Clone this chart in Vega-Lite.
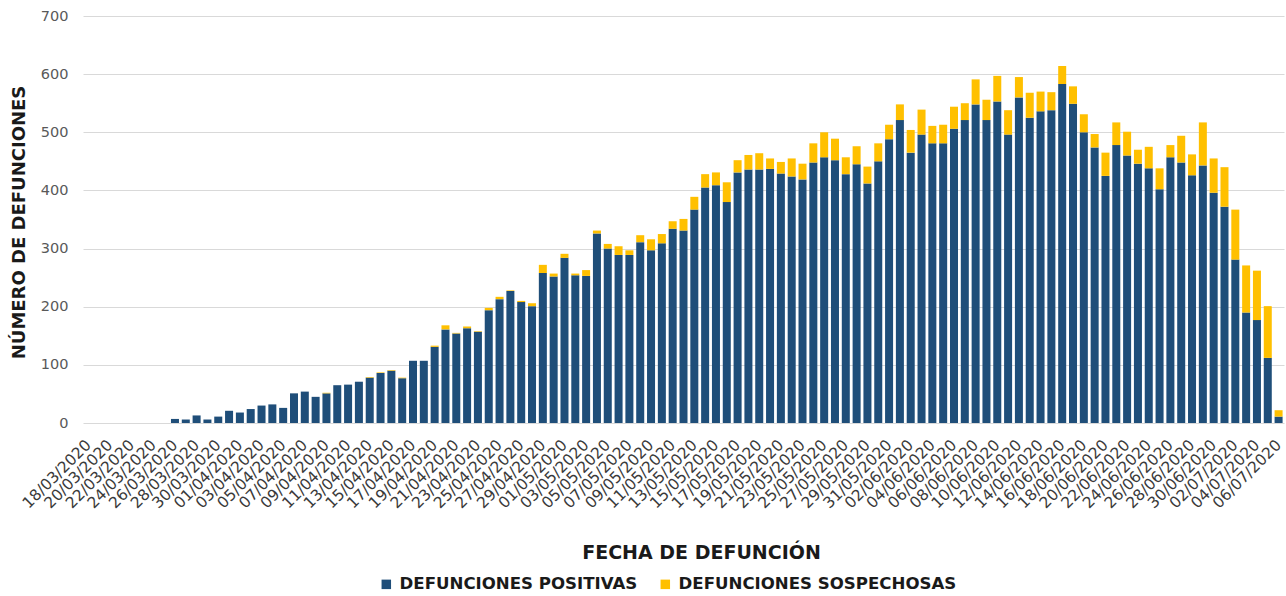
{
  "$schema": "https://vega.github.io/schema/vega-lite/v6.json",
  "width": 1201,
  "height": 407,
  "autosize": {"type": "none"},
  "padding": {"left": 83, "top": 16, "right": 2, "bottom": 173},
  "background": "white",
  "config": {"view": {"stroke": null}, "font": "DejaVu Sans"},
  "data": {"values": [
    {"fecha": "18/03/2020", "positivas": 0, "sospechosas": 0},
    {"fecha": "19/03/2020", "positivas": 0, "sospechosas": 0},
    {"fecha": "20/03/2020", "positivas": 0, "sospechosas": 0},
    {"fecha": "21/03/2020", "positivas": 0, "sospechosas": 0},
    {"fecha": "22/03/2020", "positivas": 0, "sospechosas": 0},
    {"fecha": "23/03/2020", "positivas": 0, "sospechosas": 0},
    {"fecha": "24/03/2020", "positivas": 0, "sospechosas": 0},
    {"fecha": "25/03/2020", "positivas": 0, "sospechosas": 0},
    {"fecha": "26/03/2020", "positivas": 7, "sospechosas": 0},
    {"fecha": "27/03/2020", "positivas": 6, "sospechosas": 0},
    {"fecha": "28/03/2020", "positivas": 13, "sospechosas": 0},
    {"fecha": "29/03/2020", "positivas": 6, "sospechosas": 0},
    {"fecha": "30/03/2020", "positivas": 11, "sospechosas": 0},
    {"fecha": "31/03/2020", "positivas": 21, "sospechosas": 0},
    {"fecha": "01/04/2020", "positivas": 18, "sospechosas": 0},
    {"fecha": "02/04/2020", "positivas": 24, "sospechosas": 0},
    {"fecha": "03/04/2020", "positivas": 30, "sospechosas": 0},
    {"fecha": "04/04/2020", "positivas": 32, "sospechosas": 0},
    {"fecha": "05/04/2020", "positivas": 26, "sospechosas": 0},
    {"fecha": "06/04/2020", "positivas": 51, "sospechosas": 0},
    {"fecha": "07/04/2020", "positivas": 54, "sospechosas": 0},
    {"fecha": "08/04/2020", "positivas": 45, "sospechosas": 0},
    {"fecha": "09/04/2020", "positivas": 51, "sospechosas": 1},
    {"fecha": "10/04/2020", "positivas": 65, "sospechosas": 0},
    {"fecha": "11/04/2020", "positivas": 66, "sospechosas": 0},
    {"fecha": "12/04/2020", "positivas": 71, "sospechosas": 0},
    {"fecha": "13/04/2020", "positivas": 78, "sospechosas": 1},
    {"fecha": "14/04/2020", "positivas": 86, "sospechosas": 1},
    {"fecha": "15/04/2020", "positivas": 90, "sospechosas": 1},
    {"fecha": "16/04/2020", "positivas": 77, "sospechosas": 1},
    {"fecha": "17/04/2020", "positivas": 107, "sospechosas": 0},
    {"fecha": "18/04/2020", "positivas": 107, "sospechosas": 0},
    {"fecha": "19/04/2020", "positivas": 131, "sospechosas": 2},
    {"fecha": "20/04/2020", "positivas": 161, "sospechosas": 7},
    {"fecha": "21/04/2020", "positivas": 154, "sospechosas": 1},
    {"fecha": "22/04/2020", "positivas": 163, "sospechosas": 3},
    {"fecha": "23/04/2020", "positivas": 157, "sospechosas": 1},
    {"fecha": "24/04/2020", "positivas": 194, "sospechosas": 4},
    {"fecha": "25/04/2020", "positivas": 213, "sospechosas": 4},
    {"fecha": "26/04/2020", "positivas": 227, "sospechosas": 1},
    {"fecha": "27/04/2020", "positivas": 208, "sospechosas": 2},
    {"fecha": "28/04/2020", "positivas": 201, "sospechosas": 5},
    {"fecha": "29/04/2020", "positivas": 258, "sospechosas": 14},
    {"fecha": "30/04/2020", "positivas": 252, "sospechosas": 5},
    {"fecha": "01/05/2020", "positivas": 284, "sospechosas": 7},
    {"fecha": "02/05/2020", "positivas": 254, "sospechosas": 3},
    {"fecha": "03/05/2020", "positivas": 253, "sospechosas": 10},
    {"fecha": "04/05/2020", "positivas": 326, "sospechosas": 5},
    {"fecha": "05/05/2020", "positivas": 300, "sospechosas": 8},
    {"fecha": "06/05/2020", "positivas": 289, "sospechosas": 15},
    {"fecha": "07/05/2020", "positivas": 289, "sospechosas": 8},
    {"fecha": "08/05/2020", "positivas": 311, "sospechosas": 12},
    {"fecha": "09/05/2020", "positivas": 297, "sospechosas": 19},
    {"fecha": "10/05/2020", "positivas": 309, "sospechosas": 16},
    {"fecha": "11/05/2020", "positivas": 334, "sospechosas": 13},
    {"fecha": "12/05/2020", "positivas": 331, "sospechosas": 20},
    {"fecha": "13/05/2020", "positivas": 367, "sospechosas": 22},
    {"fecha": "14/05/2020", "positivas": 405, "sospechosas": 23},
    {"fecha": "15/05/2020", "positivas": 409, "sospechosas": 22},
    {"fecha": "16/05/2020", "positivas": 380, "sospechosas": 34},
    {"fecha": "17/05/2020", "positivas": 431, "sospechosas": 21},
    {"fecha": "18/05/2020", "positivas": 436, "sospechosas": 25},
    {"fecha": "19/05/2020", "positivas": 436, "sospechosas": 28},
    {"fecha": "20/05/2020", "positivas": 437, "sospechosas": 18},
    {"fecha": "21/05/2020", "positivas": 429, "sospechosas": 20},
    {"fecha": "22/05/2020", "positivas": 424, "sospechosas": 31},
    {"fecha": "23/05/2020", "positivas": 419, "sospechosas": 27},
    {"fecha": "24/05/2020", "positivas": 448, "sospechosas": 33},
    {"fecha": "25/05/2020", "positivas": 457, "sospechosas": 43},
    {"fecha": "26/05/2020", "positivas": 452, "sospechosas": 37},
    {"fecha": "27/05/2020", "positivas": 428, "sospechosas": 29},
    {"fecha": "28/05/2020", "positivas": 445, "sospechosas": 31},
    {"fecha": "29/05/2020", "positivas": 412, "sospechosas": 29},
    {"fecha": "30/05/2020", "positivas": 450, "sospechosas": 31},
    {"fecha": "31/05/2020", "positivas": 488, "sospechosas": 25},
    {"fecha": "01/06/2020", "positivas": 521, "sospechosas": 27},
    {"fecha": "02/06/2020", "positivas": 465, "sospechosas": 39},
    {"fecha": "03/06/2020", "positivas": 496, "sospechosas": 43},
    {"fecha": "04/06/2020", "positivas": 481, "sospechosas": 30},
    {"fecha": "05/06/2020", "positivas": 481, "sospechosas": 32},
    {"fecha": "06/06/2020", "positivas": 506, "sospechosas": 38},
    {"fecha": "07/06/2020", "positivas": 521, "sospechosas": 29},
    {"fecha": "08/06/2020", "positivas": 548, "sospechosas": 43},
    {"fecha": "09/06/2020", "positivas": 521, "sospechosas": 35},
    {"fecha": "10/06/2020", "positivas": 553, "sospechosas": 44},
    {"fecha": "11/06/2020", "positivas": 496, "sospechosas": 42},
    {"fecha": "12/06/2020", "positivas": 560, "sospechosas": 35},
    {"fecha": "13/06/2020", "positivas": 525, "sospechosas": 43},
    {"fecha": "14/06/2020", "positivas": 536, "sospechosas": 34},
    {"fecha": "15/06/2020", "positivas": 538, "sospechosas": 31},
    {"fecha": "16/06/2020", "positivas": 583, "sospechosas": 31},
    {"fecha": "17/06/2020", "positivas": 549, "sospechosas": 30},
    {"fecha": "18/06/2020", "positivas": 500, "sospechosas": 31},
    {"fecha": "19/06/2020", "positivas": 474, "sospechosas": 23},
    {"fecha": "20/06/2020", "positivas": 425, "sospechosas": 40},
    {"fecha": "21/06/2020", "positivas": 478, "sospechosas": 39},
    {"fecha": "22/06/2020", "positivas": 460, "sospechosas": 41},
    {"fecha": "23/06/2020", "positivas": 446, "sospechosas": 24},
    {"fecha": "24/06/2020", "positivas": 438, "sospechosas": 37},
    {"fecha": "25/06/2020", "positivas": 402, "sospechosas": 36},
    {"fecha": "26/06/2020", "positivas": 457, "sospechosas": 21},
    {"fecha": "27/06/2020", "positivas": 448, "sospechosas": 46},
    {"fecha": "28/06/2020", "positivas": 426, "sospechosas": 36},
    {"fecha": "29/06/2020", "positivas": 443, "sospechosas": 74},
    {"fecha": "30/06/2020", "positivas": 396, "sospechosas": 59},
    {"fecha": "01/07/2020", "positivas": 372, "sospechosas": 68},
    {"fecha": "02/07/2020", "positivas": 281, "sospechosas": 86},
    {"fecha": "03/07/2020", "positivas": 190, "sospechosas": 81},
    {"fecha": "04/07/2020", "positivas": 177, "sospechosas": 85},
    {"fecha": "05/07/2020", "positivas": 112, "sospechosas": 89},
    {"fecha": "06/07/2020", "positivas": 11, "sospechosas": 11}
  ]},
  "transform": [{"fold": ["positivas", "sospechosas"], "as": ["tipo", "valor"]}],
  "mark": {"type": "bar"},
  "encoding": {
    "x": {
      "field": "fecha", "type": "ordinal", "sort": null,
      "scale": {"paddingInner": 0.26, "paddingOuter": 0.13},
      "axis": {
        "values": ["18/03/2020","20/03/2020","22/03/2020","24/03/2020","26/03/2020","28/03/2020","30/03/2020","01/04/2020","03/04/2020","05/04/2020","07/04/2020","09/04/2020","11/04/2020","13/04/2020","15/04/2020","17/04/2020","19/04/2020","21/04/2020","23/04/2020","25/04/2020","27/04/2020","29/04/2020","01/05/2020","03/05/2020","05/05/2020","07/05/2020","09/05/2020","11/05/2020","13/05/2020","15/05/2020","17/05/2020","19/05/2020","21/05/2020","23/05/2020","25/05/2020","27/05/2020","29/05/2020","31/05/2020","02/06/2020","04/06/2020","06/06/2020","08/06/2020","10/06/2020","12/06/2020","14/06/2020","16/06/2020","18/06/2020","20/06/2020","22/06/2020","24/06/2020","26/06/2020","28/06/2020","30/06/2020","02/07/2020","04/07/2020","06/07/2020"],
        "labelAngle": -45, "labelAlign": "right", "labelBaseline": "middle",
        "labelFontSize": 15.5, "labelColor": "#3a3a3a", "labelPadding": 19,
        "labelOverlap": false, "labelFont": "DejaVu Sans",
        "domain": false, "ticks": false, "grid": false,
        "title": "FECHA DE DEFUNCIÓN", "titleFontSize": 19, "titleFontWeight": "bold",
        "titleFont": "DejaVu Sans",
        "titleColor": "#1a1a1a", "titleX": 618, "titleY": 129, "titleBaseline": "middle", "titleAnchor": "middle"
      }
    },
    "y": {
      "field": "valor", "type": "quantitative", "stack": "zero",
      "scale": {"domain": [0, 700]},
      "axis": {
        "values": [0, 100, 200, 300, 400, 500, 600, 700],
        "domain": false, "ticks": false, "gridColor": "#D9D9D9", "gridWidth": 1,
        "labelFontSize": 14.5, "labelColor": "#595959", "labelPadding": 15,
        "labelFont": "DejaVu Sans",
        "title": "NÚMERO DE DEFUNCIONES", "titleFontSize": 18, "titleFontWeight": "bold",
        "titleFont": "DejaVu Sans",
        "titleColor": "#1a1a1a", "titleX": -64, "titleY": 206, "titleAngle": -90,
        "titleBaseline": "middle", "titleAlign": "center"
      }
    },
    "color": {
      "field": "tipo", "type": "nominal",
      "scale": {"domain": ["positivas", "sospechosas"], "range": ["#1F4E79", "#FFC000"]},
      "legend": {
        "orient": "none", "legendX": 295, "legendY": 560, "direction": "horizontal",
        "title": null, "symbolType": "square", "symbolSize": 90, "symbolStrokeWidth": 0,
        "labelExpr": "datum.label == 'positivas' ? 'DEFUNCIONES POSITIVAS' : 'DEFUNCIONES SOSPECHOSAS'",
        "labelFontSize": 16.6, "labelFontWeight": "bold", "labelColor": "#1a1a1a",
        "labelFont": "DejaVu Sans", "labelLimit": 0,
        "columnPadding": 19, "labelOffset": 5
      }
    },
    "order": {"field": "tipo", "sort": "ascending"}
  }
}
